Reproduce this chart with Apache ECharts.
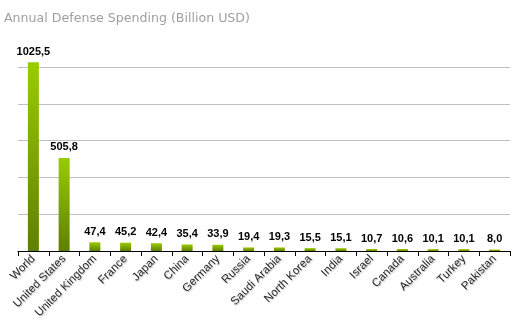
<!DOCTYPE html>
<html><head><meta charset="utf-8">
<script src="https://cdn.jsdelivr.net/npm/echarts@6/dist/echarts.min.js"></script>
<style>html,body{margin:0;padding:0;background:#fff}#c{width:518px;height:329px}</style>
</head><body><div id="c"></div>
<script>
const categories = ["World","United States","United Kingdom","France","Japan","China","Germany","Russia","Saudi Arabia","North Korea","India","Israel","Canada","Australia","Turkey","Pakistan"];
const spending = [1025.5,505.8,47.4,45.2,42.4,35.4,33.9,19.4,19.3,15.5,15.1,10.7,10.6,10.1,10.1,8.0];
const yTicks = [0,200,400,600,800,1000];

const chart = echarts.init(document.getElementById('c'), null, {renderer:'canvas'});
chart.setOption({
  animation:false,
  backgroundColor:'#fff',
  title:{text:'Annual Defense Spending (Billion USD)',left:-1,top:7,
    textStyle:{color:'#a0a0a0',fontSize:12.6,fontWeight:'normal',fontFamily:'DejaVu Sans'}},
  grid:{left:18,right:8,top:67,bottom:78,containLabel:false},
  xAxis:{type:'category',data:categories,
    axisLine:{lineStyle:{color:'#000',width:1}},
    axisTick:{show:true,alignWithLabel:false,length:5,lineStyle:{color:'#000'}},
    axisLabel:{rotate:45,interval:0,margin:6,color:'#2a2a2a',fontSize:11.5,fontFamily:'Arial, Liberation Sans',
      textShadowColor:'rgba(0,0,0,0.25)',textShadowBlur:1,textShadowOffsetX:1,textShadowOffsetY:1}},
  yAxis:{type:'value',min:yTicks[0],max:yTicks[yTicks.length-1],interval:200,
    axisLabel:{show:false},axisLine:{show:false},axisTick:{show:false},
    splitLine:{lineStyle:{color:'#c0c0c0',width:1}}},
  series:[{type:'bar',data:spending,barWidth:11,clip:false,
    itemStyle:{color:new echarts.graphic.LinearGradient(0,0,0,1,[{offset:0,color:'#99cc00'},{offset:1,color:'#5f7f00'}])},
    label:{show:true,position:'top',distance:5,color:'#000',fontSize:11,fontWeight:'bold',fontFamily:'Arial, Liberation Sans',
      formatter:p=>p.value.toFixed(1).replace('.',',')}}]
});
</script></body></html>
